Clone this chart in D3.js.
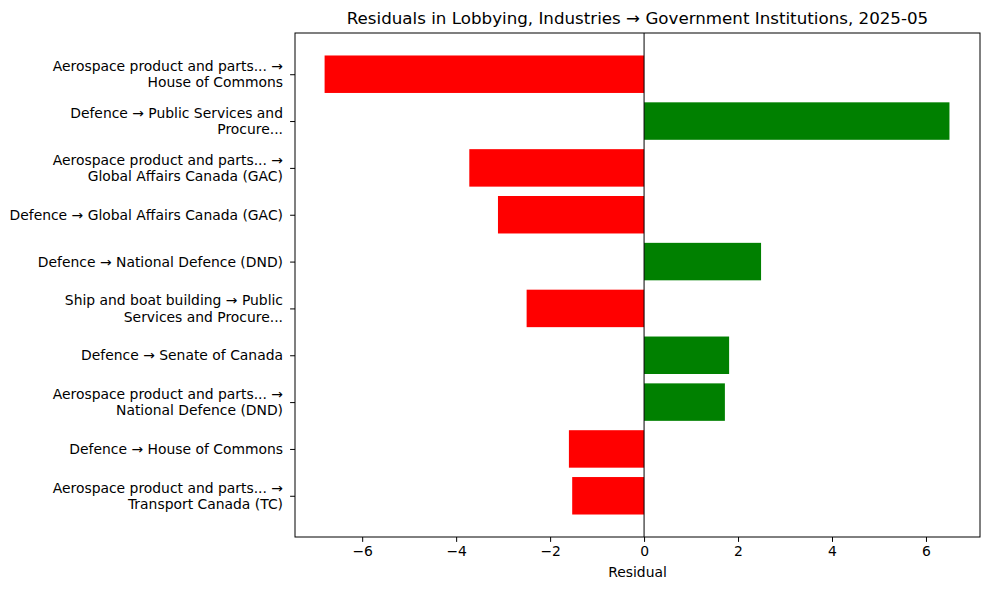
<!DOCTYPE html>
<html><head><meta charset="utf-8">
<script src="https://cdn.jsdelivr.net/npm/d3@7"></script>
<style>body{margin:0;background:#fff}text{font-family:"DejaVu Sans",sans-serif}</style>
</head><body><svg id="c" width="989" height="590"></svg>
<script>
const labels = [
 ["Aerospace product and parts... →","House of Commons"],
 ["Defence → Public Services and","Procure..."],
 ["Aerospace product and parts... →","Global Affairs Canada (GAC)"],
 ["Defence → Global Affairs Canada (GAC)"],
 ["Defence → National Defence (DND)"],
 ["Ship and boat building → Public","Services and Procure..."],
 ["Defence → Senate of Canada"],
 ["Aerospace product and parts... →","National Defence (DND)"],
 ["Defence → House of Commons"],
 ["Aerospace product and parts... →","Transport Canada (TC)"]
];
const residuals = [-6.8, 6.5, -3.72, -3.11, 2.49, -2.5, 1.81, 1.72, -1.6, -1.53];
const xTicks = [-6,-4,-2,0,2,4,6];

const svg = d3.select("#c");
const L=295,R=980,T=33,B=537;
const x = d3.scaleLinear().domain([-7.43,7.15]).range([L,R]);
const y = d3.scaleLinear().domain([-0.88,9.88]).range([T,B]);
const bh = (y(0.4)-y(-0.4));

svg.selectAll("rect.bar").data(residuals).enter().append("rect")
 .attr("x",d=>x(Math.min(0,d))).attr("width",d=>Math.abs(x(d)-x(0)))
 .attr("y",(d,i)=>y(i)-bh/2).attr("height",bh)
 .attr("fill",d=>d<0?"red":"green");

svg.append("line").attr("x1",x(0)).attr("x2",x(0)).attr("y1",T).attr("y2",B).attr("stroke","black").attr("stroke-width",1);

svg.append("rect").attr("x",L).attr("y",T).attr("width",R-L).attr("height",B-T).attr("fill","none").attr("stroke","black").attr("stroke-width",1);

const xa = svg.append("g").attr("transform",`translate(0,${B})`)
 .call(d3.axisBottom(x).tickValues(xTicks).tickSize(4.9).tickPadding(4).tickFormat(d=>d<0?"−"+(-d):d));
xa.select(".domain").remove();
xa.selectAll("text").attr("font-size","13.9px").attr("font-family","DejaVu Sans").attr("fill","black");

const ya = svg.append("g").attr("transform",`translate(${L},0)`)
 .call(d3.axisLeft(y).tickValues(d3.range(10)).tickSize(4.9).tickFormat(""));
ya.select(".domain").remove();
labels.forEach((ls,i)=>{
 const t = svg.append("text").attr("x",L-12).attr("text-anchor","end").attr("font-size","13.9px");
 const n=ls.length;
 ls.forEach((s,j)=>t.append("tspan").attr("x",L-12).attr("y",y(i)+5+(j-(n-1)/2)*16.5).text(s));
});

svg.append("text").attr("x",(L+R)/2).attr("y",577).attr("text-anchor","middle").attr("font-size","13.9px").text("Residual");
svg.append("text").attr("x",(L+R)/2).attr("y",24).attr("text-anchor","middle").attr("font-size","16.7px").text("Residuals in Lobbying, Industries → Government Institutions, 2025-05");
</script></body></html>
